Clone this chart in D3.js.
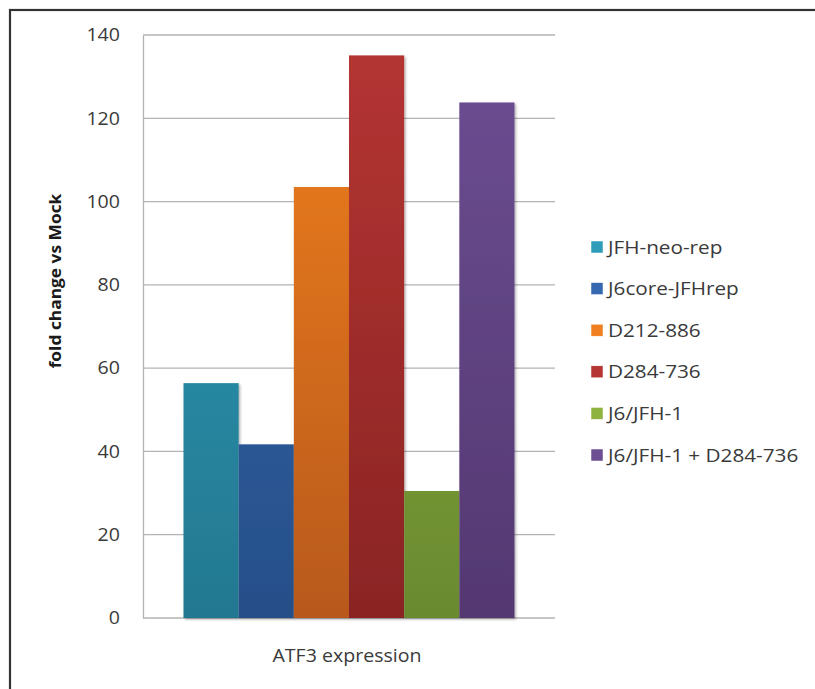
<!DOCTYPE html>
<html>
<head>
<meta charset="utf-8">
<script src="https://cdn.jsdelivr.net/npm/d3@7"></script>
<style>
  html, body { margin: 0; padding: 0; background: #fff; }
  svg { display: block; }
</style>
</head>
<body>
<svg id="chart" width="815" height="689"></svg>
<script>
// Series shown as clustered bars in one category
const category = "ATF3 expression";
const seriesNames = ["JFH-neo-rep", "J6core-JFHrep", "D212-886", "D284-736", "J6/JFH-1", "J6/JFH-1 + D284-736"];
const seriesValues = [56.4, 41.7, 103.5, 135.1, 30.5, 123.8];
const colorsTop = ["#2f9dba", "#3568b1", "#f0801f", "#b53532", "#8eb33f", "#6d4e93"];
const colorsBottom = ["#237890", "#264f89", "#b8591a", "#8a2424", "#6a8a2f", "#533871"];
const yTicks = [0, 20, 40, 60, 80, 100, 120, 140];

const svg = d3.select("#chart");
const plot = { left: 143, right: 555, top: 35, bottom: 618 };
const font = "'Open Sans', sans-serif";
// Text is drawn slightly widened, like the original office chart font
const widen = 1.12;

// Outer frame
svg.append("rect")
  .attr("x", 10).attr("y", 10)
  .attr("width", 830).attr("height", 700)
  .attr("fill", "#fff")
  .attr("stroke", "#333").attr("stroke-width", 2.2);

const defs = svg.append("defs");
seriesNames.forEach((s, i) => {
  const g = defs.append("linearGradient")
    .attr("id", "grad" + i)
    .attr("gradientUnits", "userSpaceOnUse")
    .attr("x1", 0).attr("x2", 0)
    .attr("y1", plot.top).attr("y2", plot.bottom);
  g.append("stop").attr("offset", "0%").attr("stop-color", colorsTop[i]);
  g.append("stop").attr("offset", "100%").attr("stop-color", colorsBottom[i]);
});
const shadow = defs.append("filter").attr("id", "shadow")
  .attr("x", "-20%").attr("y", "-20%").attr("width", "140%").attr("height", "140%");
shadow.append("feDropShadow")
  .attr("dx", 1.5).attr("dy", 1.5).attr("stdDeviation", 1.2)
  .attr("flood-color", "#000").attr("flood-opacity", 0.3);

const y = d3.scaleLinear().domain([0, 140]).range([plot.bottom, plot.top]);
const x0 = d3.scaleBand().domain([category]).range([plot.left, plot.right]);
const groupPad = 40.5;
const x1 = d3.scaleBand().domain(seriesNames)
  .range([x0(category) + groupPad, x0(category) + x0.bandwidth() - groupPad])
  .padding(0);

// Gridlines
svg.append("g")
  .selectAll("line")
  .data(yTicks)
  .join("line")
  .attr("x1", plot.left).attr("x2", plot.right)
  .attr("y1", d => y(d)).attr("y2", d => y(d))
  .attr("stroke", "#b3b3b3").attr("stroke-width", 1.3);

// Y axis
const yAxis = d3.axisLeft(y).tickValues(yTicks).tickSize(0).tickFormat(() => "");
const ya = svg.append("g").attr("transform", `translate(${plot.left},0)`).call(yAxis);
ya.select(".domain").attr("stroke", "#b3b3b3").attr("stroke-width", 1.3);
svg.append("g")
  .selectAll("text")
  .data(yTicks)
  .join("text")
  .attr("transform", d => `translate(${plot.left - 23},${y(d)}) scale(${widen},1)`)
  .attr("dy", "0.36em")
  .attr("text-anchor", "end")
  .attr("font-family", font)
  .attr("font-size", 17.5)
  .attr("fill", "#3a3a3a")
  .text(d => d);

// Bars
svg.append("g")
  .selectAll("rect")
  .data(seriesValues)
  .join("rect")
  .attr("x", (d, i) => x1(seriesNames[i]))
  .attr("y", d => y(d))
  .attr("width", x1.bandwidth())
  .attr("height", d => y(0) - y(d))
  .attr("fill", (d, i) => `url(#grad${i})`)
  .attr("filter", "url(#shadow)");

// Category label
svg.append("text")
  .attr("transform", `translate(${x0(category) + x0.bandwidth() / 2 - 2},662) scale(${widen},1)`)
  .attr("text-anchor", "middle")
  .attr("font-family", font)
  .attr("font-size", 17.5)
  .attr("fill", "#3a3a3a")
  .text(category);

// Y axis title
svg.append("text")
  .attr("transform", `translate(61,281) rotate(-90) scale(${widen},1)`)
  .attr("text-anchor", "middle")
  .attr("font-family", font)
  .attr("font-weight", "bold")
  .attr("font-size", 15.5)
  .attr("fill", "#1a1a1a")
  .text("fold change vs Mock");

// Legend
const legend = svg.append("g");
const legendY = d3.scalePoint().domain(seriesNames).range([247, 455]);
seriesNames.forEach((s, i) => {
  const gy = legendY(s);
  legend.append("rect")
    .attr("x", 591).attr("y", gy - 6)
    .attr("width", 12).attr("height", 12)
    .attr("fill", colorsTop[i])
    .attr("stroke", "#fff").attr("stroke-width", 0.5);
  legend.append("text")
    .attr("transform", `translate(608,${gy}) scale(${widen},1)`)
    .attr("dy", "0.36em")
    .attr("font-family", font)
    .attr("font-size", 18.5)
    .attr("fill", "#3a3a3a")
    .text(s);
});
</script>
</body>
</html>
